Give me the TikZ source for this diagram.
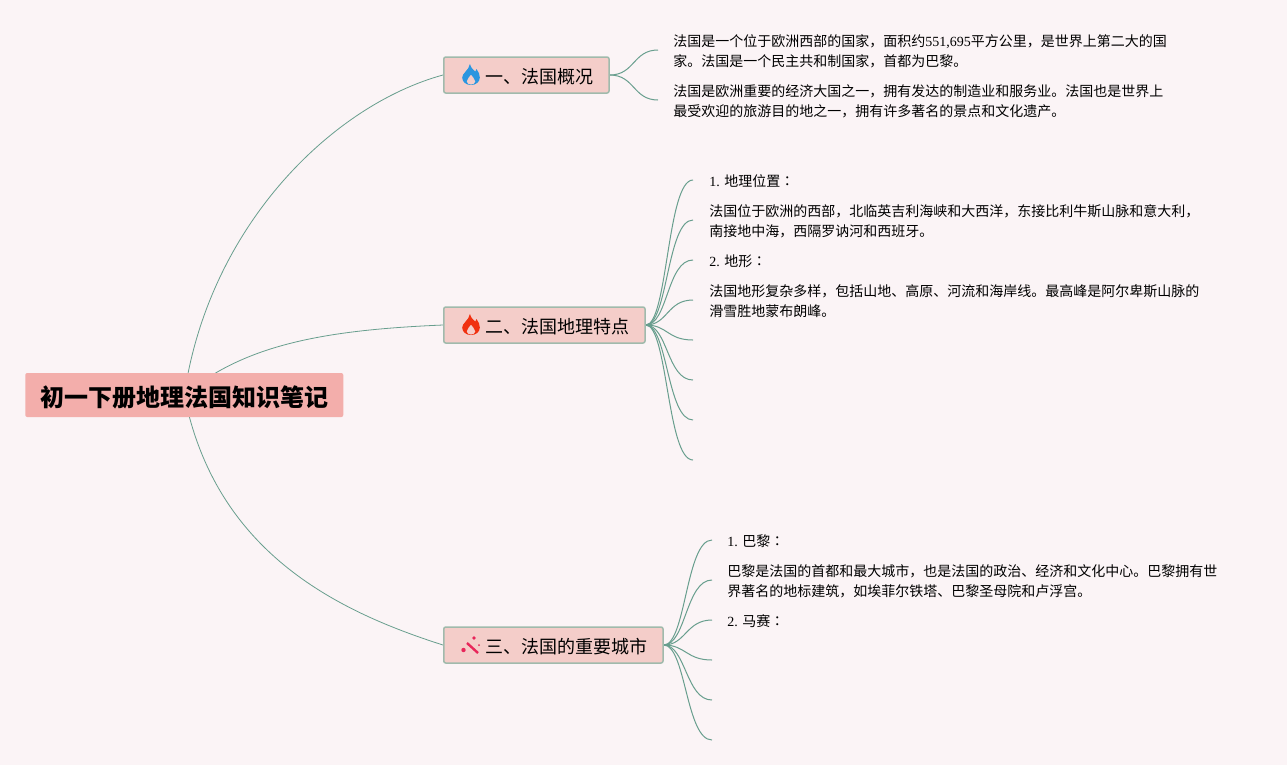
\documentclass[tikz,border=0pt]{standalone}
\usepackage{fontspec}
\setmainfont{Liberation Serif}
\newfontfamily\cjk{Noto Sans CJK SC}
\newfontfamily\cjktc{Noto Sans CJK TC}
\usetikzlibrary{backgrounds}
\newlength{\du}
\setlength{\du}{0.75pt}
\definecolor{pagecolor}{RGB}{251,244,246}
\definecolor{rootcolor}{RGB}{243,174,171}
\definecolor{branchcolor}{RGB}{244,205,201}
\definecolor{bordercolor}{RGB}{160,186,172}
\definecolor{linecolor}{RGB}{104,158,142}
\definecolor{flameblue}{RGB}{42,150,224}
\definecolor{flamered}{RGB}{240,48,16}
\definecolor{wandcolor}{RGB}{232,38,90}
\newcommand{\numtxt}[1]{{\rmfamily #1}}
\newcommand{\colonmark}{{\cjktc ：}}
\newcommand{\flameicon}[2]{%
\begin{scope}[shift={(#1)},xscale=1.1]
\fill[#2,even odd rule] (-1\du,-11\du) .. controls (0\du,-6.5\du) and (3\du,-4.5\du) .. (4\du,-3.5\du)
  .. controls (4.5\du,-4\du) and (5\du,-5\du) .. (5\du,-6\du)
  .. controls (7\du,-3.5\du) and (8\du,0\du) .. (8\du,2.5\du)
  .. controls (8\du,7\du) and (4.5\du,10\du) .. (0\du,10\du)
  .. controls (-4.5\du,10\du) and (-8\du,7\du) .. (-8\du,2.5\du)
  .. controls (-8\du,-2\du) and (-2\du,-4.5\du) .. (-1\du,-11\du) -- cycle
  (0\du,-0.5\du) .. controls (-1\du,2\du) and (-4\du,3.5\du) .. (-4\du,6.5\du)
  .. controls (-4\du,8.5\du) and (-2\du,9.6\du) .. (0\du,9.6\du)
  .. controls (2\du,9.6\du) and (4\du,8.5\du) .. (4\du,6.5\du)
  .. controls (4\du,3.5\du) and (1\du,2\du) .. (0\du,-0.5\du) -- cycle;
\end{scope}}
\tikzset{
  rootbox/.style={fill=rootcolor,rounded corners=2\du,anchor=west,inner xsep=15\du,inner ysep=0pt,
    minimum height=44\du,text height=19pt,font=\cjk\bfseries\fontsize{18}{22}\selectfont},
  branchbox/.style={draw=bordercolor,fill=branchcolor,line width=1.5\du,rounded corners=2\du,anchor=west,
    inner xsep=15.25\du,inner ysep=0pt,minimum height=36\du,text height=14pt,font=\cjk\fontsize{13.5}{16}\selectfont},
  notetext/.style={anchor=west,align=left,inner xsep=15\du,inner ysep=0pt,text height=26pt,
    font=\cjk\fontsize{10.5}{15}\selectfont},
  notetitle/.style={notetext,text height=11pt},
  mainline/.style={draw=linecolor,line width=0.8\du},
  subline/.style={draw=linecolor,line width=1\du}
}
\begin{document}
\begin{tikzpicture}
\pgftransformxscale{1.000000}
\pgftransformyscale{-1.000000}
\useasboundingbox (0\du,0\du) rectangle (1287\du,765\du);
\node[rootbox] (root) at (25\du,395\du){初一下册地理法国知识笔记};
\node[branchbox] (overview) at (443\du,75\du){\hspace*{26.75\du}一、法国概况};
\node[branchbox] (terrain) at (443\du,325\du){\hspace*{26.75\du}二、法国地理特点};
\node[branchbox] (cities) at (443\du,645\du){\hspace*{26.75\du}三、法国的重要城市};
\flameicon{471\du,75\du}{flameblue}
\flameicon{471\du,325\du}{flamered}
% wand
\draw[wandcolor,line width=2.4\du] (467\du,643\du)--(478\du,653\du);
\fill[wandcolor] (463.5\du,650\du) circle (2.2\du);
\fill[wandcolor] (474\du,638\du) circle (1.8\du);
\fill[wandcolor] (479\du,645\du) circle (1\du);
% notes
\node[notetext] (areatext) at (658\du,50\du){法国是一个位于欧洲西部的国家，面积约\numtxt{551,695}平方公里，是世界上第二大的国\\家。法国是一个民主共和制国家，首都为巴黎。};
\node[notetext] (econtext) at (658\du,100\du){法国是欧洲重要的经济大国之一，拥有发达的制造业和服务业。法国也是世界上\\最受欢迎的旅游目的地之一，拥有许多著名的景点和文化遗产。};
\node[notetitle,inner xsep=16\du] (postitle) at (693\du,180\du){\numtxt{1. }地理位置\colonmark};
\node[notetext,inner xsep=16\du] (postext) at (693\du,220\du){法国位于欧洲的西部，北临英吉利海峡和大西洋，东接比利牛斯山脉和意大利，\\南接地中海，西隔罗讷河和西班牙。};
\node[notetitle,inner xsep=16\du] (formtitle) at (693\du,260\du){\numtxt{2. }地形\colonmark};
\node[notetext,inner xsep=16\du] (formtext) at (693\du,300\du){法国地形复杂多样，包括山地、高原、河流和海岸线。最高峰是阿尔卑斯山脉的\\滑雪胜地蒙布朗峰。};
\coordinate (terrainE) at (693\du,340\du);
\coordinate (terrainF) at (693\du,380\du);
\coordinate (terrainG) at (693\du,420\du);
\coordinate (terrainH) at (693\du,460\du);
\node[notetitle] (paristitle) at (712\du,540\du){\numtxt{1. }巴黎\colonmark};
\node[notetext] (paristext) at (712\du,580\du){巴黎是法国的首都和最大城市，也是法国的政治、经济和文化中心。巴黎拥有世\\界著名的地标建筑，如埃菲尔铁塔、巴黎圣母院和卢浮宫。};
\node[notetitle] (marstitle) at (712\du,620\du){\numtxt{2. }马赛\colonmark};
\coordinate (citiesD) at (712\du,660\du);
\coordinate (citiesE) at (712\du,700\du);
\coordinate (citiesF) at (712\du,740\du);
\begin{scope}[on background layer]
\fill[pagecolor] (0\du,0\du) rectangle (1287\du,765\du);
\draw[mainline] (root.center) .. controls +(25\du,-170\du) and +(-110\du,30\du) .. (overview.west);
\draw[mainline] (root.center) .. controls +(60\du,-50\du) and +(-120\du,5\du) .. (terrain.west);
\draw[mainline] (root.center) .. controls +(31\du,155\du) and +(-110\du,-35\du) .. (cities.west);
\draw[subline] (overview.east) .. controls +(25\du,0\du) and +(-25\du,0\du) .. (areatext.west);
\draw[subline] (overview.east) .. controls +(25\du,0\du) and +(-25\du,0\du) .. (econtext.west);
\draw[subline] (terrain.east) .. controls +(22\du,0\du) and +(-26\du,0\du) .. (postitle.west);
\draw[subline] (terrain.east) .. controls +(22\du,0\du) and +(-26\du,0\du) .. (postext.west);
\draw[subline] (terrain.east) .. controls +(22\du,0\du) and +(-26\du,0\du) .. (formtitle.west);
\draw[subline] (terrain.east) .. controls +(22\du,0\du) and +(-26\du,0\du) .. (formtext.west);
\draw[subline] (terrain.east) .. controls +(22\du,0\du) and +(-26\du,0\du) .. (terrainE);
\draw[subline] (terrain.east) .. controls +(22\du,0\du) and +(-26\du,0\du) .. (terrainF);
\draw[subline] (terrain.east) .. controls +(22\du,0\du) and +(-26\du,0\du) .. (terrainG);
\draw[subline] (terrain.east) .. controls +(22\du,0\du) and +(-26\du,0\du) .. (terrainH);
\draw[subline] (cities.east) .. controls +(22\du,0\du) and +(-26\du,0\du) .. (paristitle.west);
\draw[subline] (cities.east) .. controls +(22\du,0\du) and +(-26\du,0\du) .. (paristext.west);
\draw[subline] (cities.east) .. controls +(22\du,0\du) and +(-26\du,0\du) .. (marstitle.west);
\draw[subline] (cities.east) .. controls +(22\du,0\du) and +(-26\du,0\du) .. (citiesD);
\draw[subline] (cities.east) .. controls +(22\du,0\du) and +(-26\du,0\du) .. (citiesE);
\draw[subline] (cities.east) .. controls +(22\du,0\du) and +(-26\du,0\du) .. (citiesF);
\end{scope}
\end{tikzpicture}
\end{document}
